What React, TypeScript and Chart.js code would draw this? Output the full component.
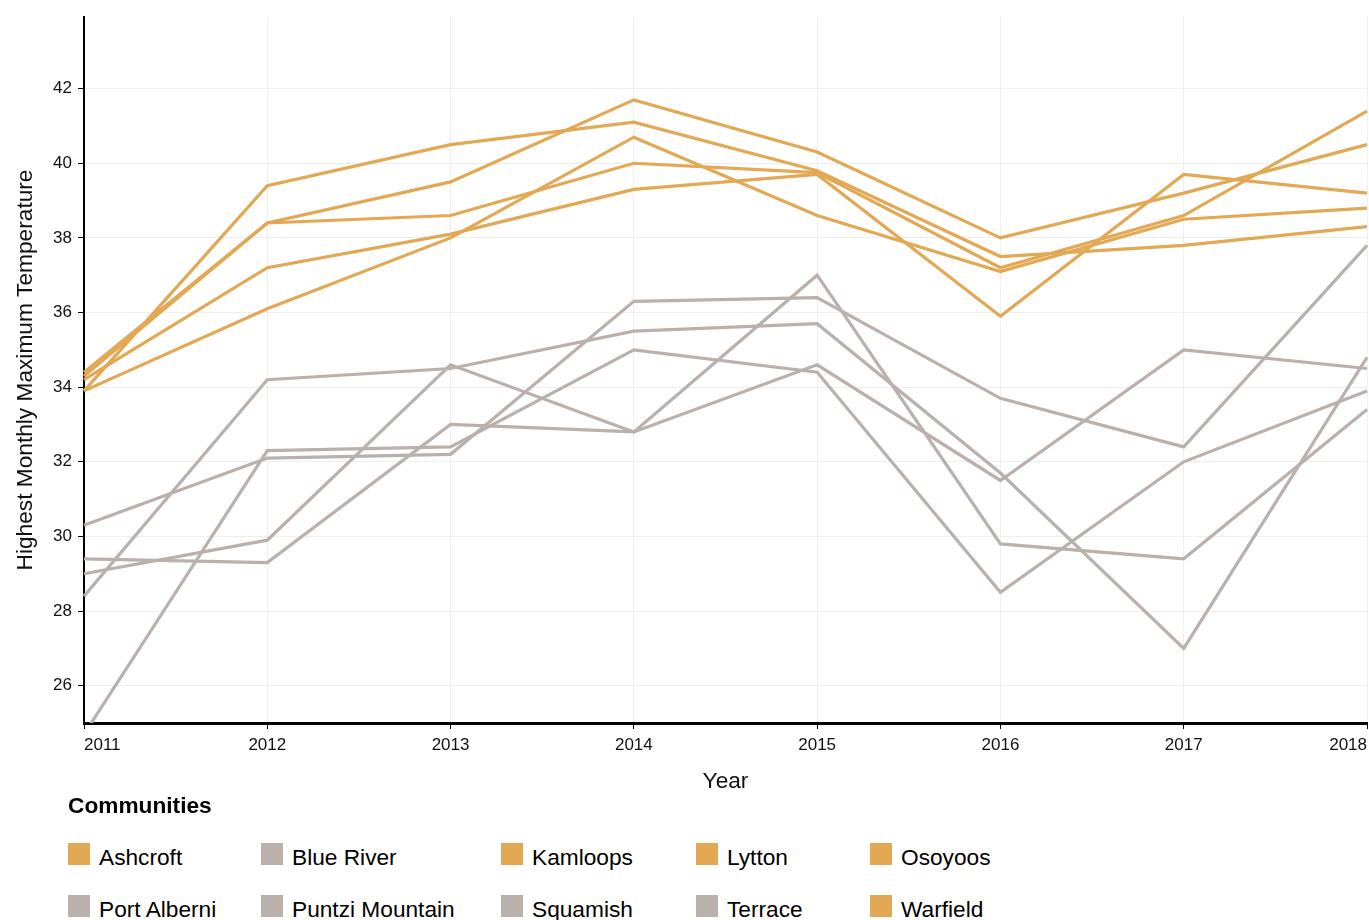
import React, { useEffect, useRef } from "react";
import { Chart, registerables } from "chart.js";

Chart.register(...registerables);

const years = ["2011", "2012", "2013", "2014", "2015", "2016", "2017", "2018"];
const yTicks = [26, 28, 30, 32, 34, 36, 38, 40, 42];
const yMin = 25;
const yMax = 43.92;

const communities = [
  "Ashcroft",
  "Blue River",
  "Kamloops",
  "Lytton",
  "Osoyoos",
  "Port Alberni",
  "Puntzi Mountain",
  "Squamish",
  "Terrace",
  "Warfield",
];
const hotCommunities = ["Ashcroft", "Kamloops", "Lytton", "Osoyoos", "Warfield"];

const ashcroft = [33.9, 39.4, 40.5, 41.1, 39.8, 37.5, 37.8, 38.3];
const kamloops = [34.4, 38.4, 39.5, 41.7, 40.3, 38.0, 39.2, 40.5];
const lytton = [34.3, 38.4, 38.6, 40.0, 39.75, 37.2, 38.6, 41.4];
const osoyoos = [34.2, 37.2, 38.1, 39.3, 39.7, 35.9, 39.7, 39.2];
const warfield = [33.9, 36.1, 38.0, 40.7, 38.6, 37.1, 38.5, 38.8];
const blueRiver = [28.4, 34.2, 34.5, 35.5, 35.7, 31.7, 27.0, 34.8];
const portAlberni = [29.0, 29.9, 34.6, 32.8, 37.0, 29.8, 29.4, 33.4];
const puntziMountain = [24.7, 32.3, 32.4, 35.0, 34.4, 28.5, 32.0, 33.9];
const squamish = [29.4, 29.3, 33.0, 32.8, 34.6, 31.5, 35.0, 34.5];
const terrace = [30.3, 32.1, 32.2, 36.3, 36.4, 33.7, 32.4, 37.8];

const seriesValues = [
  ashcroft,
  blueRiver,
  kamloops,
  lytton,
  osoyoos,
  portAlberni,
  puntziMountain,
  squamish,
  terrace,
  warfield,
];

const ORANGE = "#E3A854";
const GREY = "#BAB0AC";
const FONT = "'Liberation Sans', Arial, Helvetica, sans-serif";
const TITLE_SIZE = 22.7;
const TICK_SIZE = 17;
const LEGEND_SIZE = 22.7;

const colorOf = (name: string) => (hotCommunities.includes(name) ? ORANGE : GREY);

export default function App() {
  const canvasRef = useRef<HTMLCanvasElement | null>(null);

  useEffect(() => {
    if (!canvasRef.current) return;
    Chart.defaults.font.family = FONT;
    const datasets = communities.map((name) => ({
      label: name,
      data: seriesValues[communities.indexOf(name)],
      borderColor: colorOf(name),
      backgroundColor: colorOf(name),
      borderWidth: 3.2,
      pointRadius: 0,
      pointHoverRadius: 0,
      tension: 0,
      fill: false,
      order: hotCommunities.includes(name) ? 0 : 1,
    }));

    const chart = new Chart(canvasRef.current, {
      type: "line",
      data: { labels: years, datasets },
      options: {
        animation: false,
        responsive: false,
        maintainAspectRatio: false,
        layout: { padding: { top: 17, right: 2, left: 0, bottom: 0 } },
        plugins: {
          legend: { display: false },
          tooltip: { enabled: false },
        },
        scales: {
          x: {
            type: "category",
            grid: {
              color: "#efefef",
              lineWidth: 1,
              tickLength: 6,
              tickColor: "#000",
              drawTicks: true,
            },
            border: { color: "#000", width: 3 },
            ticks: {
              align: "inner",
              autoSkip: false,
              maxRotation: 0,
              minRotation: 0,
              padding: 6,
              color: "#111",
              font: { size: TICK_SIZE, family: FONT },
            },
            title: {
              display: true,
              text: "Year",
              color: "#111",
              font: { size: TITLE_SIZE, family: FONT },
              padding: { top: 0, bottom: 5 },
            },
            afterFit: (scale: any) => {
              scale.height = 77;
              scale.paddingLeft = 0;
              scale.paddingRight = 0;
            },
          },
          y: {
            min: yMin,
            max: yMax,
            afterBuildTicks: (scale: any) => {
              scale.ticks = yTicks.map((v) => ({ value: v }));
            },
            grid: {
              color: "#efefef",
              lineWidth: 1,
              tickLength: 6,
              tickColor: "#000",
            },
            border: { color: "#000", width: 2 },
            ticks: {
              padding: 6,
              color: "#111",
              font: { size: TICK_SIZE, family: FONT },
            },
            title: {
              display: true,
              text: "Highest Monthly Maximum Temperature",
              color: "#111",
              font: { size: TITLE_SIZE, family: FONT },
              padding: { top: 12, bottom: 0 },
            },
            afterFit: (scale: any) => {
              scale.width = 84;
            },
          },
        },
      } as any,
    });
    return () => chart.destroy();
  }, []);

  const rows = [communities.slice(0, 5), communities.slice(5, 10)];
  const colWidths = [193, 240, 195, 174, 200];

  return (
    <div
      style={{
        position: "fixed",
        left: 0,
        top: 0,
        width: 1369,
        height: 920,
        overflow: "hidden",
        background: "#fff",
        fontFamily: FONT,
      }}
    >
      <canvas
        ref={canvasRef}
        width={1369}
        height={800}
        style={{ position: "absolute", left: 0, top: 0, width: 1369, height: 800 }}
      />
      <div
        style={{
          position: "absolute",
          left: 68,
          top: 794,
          fontSize: LEGEND_SIZE,
          lineHeight: "22px",
          fontWeight: "bold",
          color: "#000",
        }}
      >
        Communities
      </div>
      {rows.map((row, r) => (
        <div
          key={r}
          style={{
            position: "absolute",
            left: 68,
            top: 843 + r * 52,
            display: "flex",
          }}
        >
          {row.map((name, c) => (
            <div
              key={name}
              style={{ width: colWidths[c], height: 22, display: "flex", flexShrink: 0 }}
            >
              <div style={{ width: 22, height: 22, background: colorOf(name), flexShrink: 0 }} />
              <span
                style={{
                  marginLeft: 9,
                  fontSize: LEGEND_SIZE,
                  lineHeight: "22px",
                  position: "relative",
                  top: 3.4,
                  color: "#000",
                  whiteSpace: "nowrap",
                }}
              >
                {name}
              </span>
            </div>
          ))}
        </div>
      ))}
    </div>
  );
}
